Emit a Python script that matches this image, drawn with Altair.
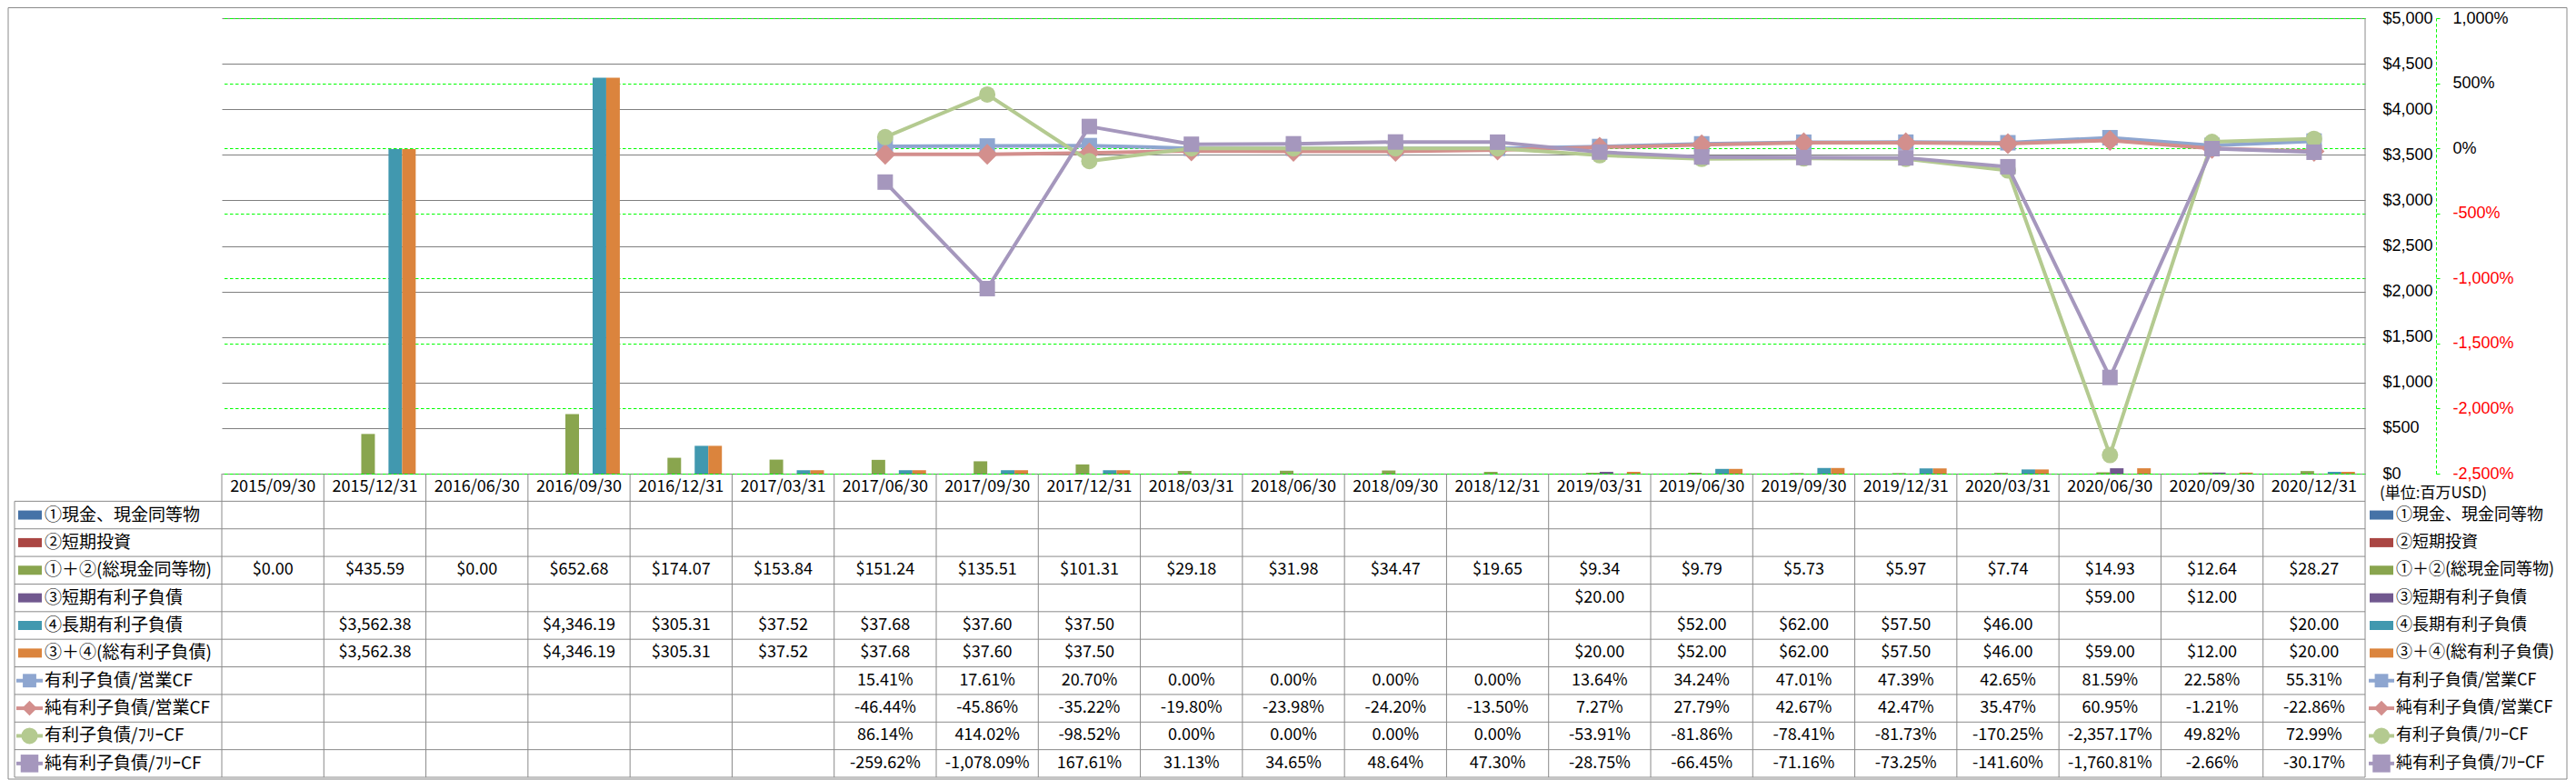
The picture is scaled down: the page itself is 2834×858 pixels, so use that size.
import altair as alt
import pandas as pd

# ---------------- data ----------------
cats = ["2015/09/30", "2015/12/31", "2016/06/30", "2016/09/30", "2016/12/31", "2017/03/31",
        "2017/06/30", "2017/09/30", "2017/12/31", "2018/03/31", "2018/06/30", "2018/09/30",
        "2018/12/31", "2019/03/31", "2019/06/30", "2019/09/30", "2019/12/31", "2020/03/31",
        "2020/06/30", "2020/09/30", "2020/12/31"]

bar_names = ["①現金、現金同等物", "②短期投資", "①＋②(総現金同等物)",
             "③短期有利子負債", "④長期有利子負債", "③＋④(総有利子負債)"]
line_names = ["有利子負債/営業CF", "純有利子負債/営業CF", "有利子負債/ﾌﾘｰCF", "純有利子負債/ﾌﾘｰCF"]

cash = [None] * 21
short_inv = [None] * 21
total_cash = [0.00, 435.59, 0.00, 652.68, 174.07, 153.84, 151.24, 135.51, 101.31, 29.18, 31.98,
              34.47, 19.65, 9.34, 9.79, 5.73, 5.97, 7.74, 14.93, 12.64, 28.27]
short_debt = [None] * 13 + [20.00, None, None, None, None, 59.00, 12.00, None]
long_debt = [None, 3562.38, None, 4346.19, 305.31, 37.52, 37.68, 37.60, 37.50, None, None, None,
             None, None, 52.00, 62.00, 57.50, 46.00, None, None, 20.00]
total_debt = [None, 3562.38, None, 4346.19, 305.31, 37.52, 37.68, 37.60, 37.50, None, None, None,
              None, 20.00, 52.00, 62.00, 57.50, 46.00, 59.00, 12.00, 20.00]

debt_opcf = [None] * 6 + [15.41, 17.61, 20.70, 0.00, 0.00, 0.00, 0.00, 13.64, 34.24, 47.01, 47.39,
                          42.65, 81.59, 22.58, 55.31]
net_debt_opcf = [None] * 6 + [-46.44, -45.86, -35.22, -19.80, -23.98, -24.20, -13.50, 7.27, 27.79,
                              42.67, 42.47, 35.47, 60.95, -1.21, -22.86]
debt_fcf = [None] * 6 + [86.14, 414.02, -98.52, 0.00, 0.00, 0.00, 0.00, -53.91, -81.86, -78.41,
                         -81.73, -170.25, -2357.17, 49.82, 72.99]
net_debt_fcf = [None] * 6 + [-259.62, -1078.09, 167.61, 31.13, 34.65, 48.64, 47.30, -28.75, -66.45,
                             -71.16, -73.25, -141.60, -1760.81, -2.66, -30.17]

unit_label = "(単位:百万USD)"

bar_values = [cash, short_inv, total_cash, short_debt, long_debt, total_debt]
line_values = [debt_opcf, net_debt_opcf, debt_fcf, net_debt_fcf]

# ---------------- styles ----------------
FONT = "Noto Sans CJK JP"
AXFONT = "Liberation Sans"
bar_colors = ["#4572A7", "#AA4643", "#89A54E", "#71588F", "#4198AF", "#DB843D"]
line_colors = ["#8EA6D0", "#D38F8D", "#B4CA90", "#A597BD"]
line_shapes = ["square", "diamond", "circle", "square"]
line_sizes = [289, 529, 324, 289]
GRAY = "#7F7F7F"
TGRAY = "#8A8A8A"
GREEN = "#00FF00"
DASH = [3.5, 2.5]

W = 2358          # plot width (columns)
HP = 501          # plot height
TH = 835          # plot + table height
NROWS = 11        # header + 10 rows

# ---------------- tables ----------------
bars_df = pd.DataFrame([
    {"cat": c, "series": s, "value": v}
    for s, vals in zip(bar_names, bar_values)
    for c, v in zip(cats, vals) if v is not None
])

lines_dfs = [pd.DataFrame([{"cat": c, "value": v} for c, v in zip(cats, vals) if v is not None])
             for vals in line_values]

row_names = bar_names + line_names
row_vals = bar_values + line_values
cells = []
for r, (name, vals) in enumerate(zip(row_names, row_vals)):
    for c, v in zip(cats, vals):
        if v is None:
            continue
        txt = f"${v:,.2f}" if r < 6 else f"{v:,.2f}%"
        cells.append({"cat": c, "ry": r + 1.5, "text": txt})
cells_df = pd.DataFrame(cells)
header_df = pd.DataFrame({"cat": cats, "ry": [0.5] * len(cats)})

rows_df = pd.DataFrame({"name": row_names, "ry": [i + 1.5 for i in range(len(row_names))]})
bar_rows = rows_df.iloc[:6]
line_rows = rows_df.iloc[6:]

hlines_df = pd.DataFrame({"k": list(range(1, NROWS + 1))})
vlines_df = pd.DataFrame({"j": list(range(0, len(cats)))})
leftcol_df = pd.DataFrame({"a": [1], "b": [NROWS]})
one_df = pd.DataFrame({"t": [unit_label]})

# ---------------- encodings ----------------
X_BAR = alt.X("cat:N", sort=cats,
              scale=alt.Scale(domain=cats, paddingInner=0.2, paddingOuter=0.1), axis=None)
X_CELL = alt.X("cat:N", sort=cats,
               scale=alt.Scale(domain=cats, type="band", paddingInner=0, paddingOuter=0), axis=None)
ROW_SCALE = alt.Scale(domain=[0, NROWS], range=[HP, TH], nice=False, zero=False)
Y_ROW = alt.Y("ry:Q", scale=ROW_SCALE, axis=None)
PCT_SCALE = alt.Scale(domain=[-2500, 1000], range=[HP, 0], nice=False, zero=False)

pct_axis = alt.Axis(
    orient="right", offset=78, values=list(range(-2500, 1001, 500)),
    labelExpr="(datum.value < 0 ? '-' : '') + format(abs(datum.value), ',') + '%'",
    labelColor={"condition": {"test": "datum.value < 0", "value": "#FF0000"}, "value": "#000000"},
    domainColor=GREEN, domainDash=DASH, domainWidth=1,
    tickColor=GREEN, tickSize=4, tickWidth=1,
    labelPadding=14, labelFont=AXFONT, labelFontSize=18,
    grid=True, gridColor=GREEN, gridDash=DASH, gridWidth=1, title=None,
)
usd_axis = alt.Axis(
    orient="right", values=list(range(0, 5001, 500)), format="$,.0f",
    domain=False, ticks=False, labelPadding=19, labelFont=AXFONT, labelFontSize=18,
    labelColor="#000000", grid=True, gridColor=GRAY, gridWidth=1, title=None,
)

layers = []

# bars
layers.append(alt.Chart(bars_df).mark_bar().encode(
    x=X_BAR,
    xOffset=alt.XOffset("series:N", sort=bar_names,
                        scale=alt.Scale(domain=bar_names, paddingInner=0, paddingOuter=0)),
    y=alt.Y("value:Q", scale=alt.Scale(domain=[0, 5000], range=[HP, 0], nice=False), axis=usd_axis),
    color=alt.Color("series:N", scale=alt.Scale(domain=bar_names, range=bar_colors), legend=None),
))

# lines + markers
for i, d in enumerate(lines_dfs):
    layers.append(alt.Chart(d).mark_line(strokeWidth=4, color=line_colors[i], strokeJoin="round").encode(
        x=X_CELL,
        y=alt.Y("value:Q", scale=PCT_SCALE, axis=pct_axis if i == 0 else None),
    ))
    layers.append(alt.Chart(d).mark_point(filled=True, opacity=1, shape=line_shapes[i],
                                          size=line_sizes[i], color=line_colors[i]).encode(
        x=X_CELL,
        y=alt.Y("value:Q", scale=PCT_SCALE, axis=None),
    ))

# table grid
layers.append(alt.Chart(hlines_df).mark_rule(color=TGRAY, strokeWidth=1).encode(
    y=alt.Y("k:Q", scale=ROW_SCALE, axis=None), x=alt.value(-228), x2=alt.value(W)))
layers.append(alt.Chart(vlines_df).mark_rule(color=TGRAY, strokeWidth=1).encode(
    x=alt.X("j:Q", scale=alt.Scale(domain=[0, len(cats)], range=[0, W], nice=False, zero=False), axis=None),
    y=alt.value(HP), y2=alt.value(TH)))
layers.append(alt.Chart(leftcol_df).mark_rule(color=TGRAY, strokeWidth=1).encode(
    x=alt.value(-228), y=alt.Y("a:Q", scale=ROW_SCALE, axis=None), y2="b:Q"))
layers.append(alt.Chart(one_df).mark_rule(color=TGRAY, strokeWidth=1).encode(
    x=alt.value(W), y=alt.value(0), y2=alt.value(TH)))

# header + cells
layers.append(alt.Chart(header_df).mark_text(font=FONT, fontSize=18, color="#000000").encode(
    x=X_CELL, y=Y_ROW, text="cat:N"))
layers.append(alt.Chart(cells_df).mark_text(font=FONT, fontSize=18, color="#000000").encode(
    x=X_CELL, y=Y_ROW, text="text:N"))

# row labels (left) and legend (right)
all_colors = bar_colors + line_colors
for (rect_x, rect_x2, line_x, line_x2, pt_x, txt_x, fs) in [(-224, -198, -226, -197, -211.5, -195, 19),
                                                            (W + 5, W + 31, W + 4, W + 32, W + 18, W + 34, 18)]:
    layers.append(alt.Chart(bar_rows).mark_rule(strokeWidth=10).encode(
        x=alt.value(rect_x), x2=alt.value(rect_x2), y=Y_ROW,
        color=alt.Color("name:N", scale=alt.Scale(domain=row_names, range=all_colors), legend=None)))
    layers.append(alt.Chart(line_rows).mark_rule(strokeWidth=4).encode(
        x=alt.value(line_x), x2=alt.value(line_x2), y=Y_ROW,
        color=alt.Color("name:N", scale=alt.Scale(domain=row_names, range=all_colors), legend=None)))
    layers.append(alt.Chart(line_rows).mark_point(filled=True, opacity=1).encode(
        x=alt.value(pt_x), y=Y_ROW,
        color=alt.Color("name:N", scale=alt.Scale(domain=row_names, range=all_colors), legend=None),
        shape=alt.Shape("name:N", scale=alt.Scale(domain=line_names, range=line_shapes), legend=None),
        size=alt.Size("name:N", scale=alt.Scale(domain=line_names, range=[220, 380, 250, 220]), legend=None)))
    layers.append(alt.Chart(rows_df).mark_text(font=FONT, fontSize=fs, align="left", color="#000000").encode(
        x=alt.value(txt_x), y=Y_ROW, text="name:N"))

# unit label
layers.append(alt.Chart(one_df).mark_text(font=FONT, fontSize=17, align="left", color="#000000").encode(
    x=alt.value(W + 16), y=alt.value(HP + 22), text="t:N"))

# outer border
layers.append(alt.Chart(one_df).mark_rect(fillOpacity=0, stroke="#8A8A8A", strokeWidth=1).encode(
    x=alt.value(-235), x2=alt.value(W + 222), y=alt.value(-11.5), y2=alt.value(TH + 2)))

chart = alt.layer(*layers).resolve_scale(
    x="independent", y="independent", color="independent", shape="independent", size="independent"
).properties(
    width=W, height=TH,
    padding={"left": 236, "top": 12, "right": 224, "bottom": 3},
    autosize=alt.AutoSizeParams(type="none"),
    background="#FFFFFF",
).configure_view(stroke="transparent")

chart.save("out.html", embed_options={"renderer": "svg", "actions": False})
